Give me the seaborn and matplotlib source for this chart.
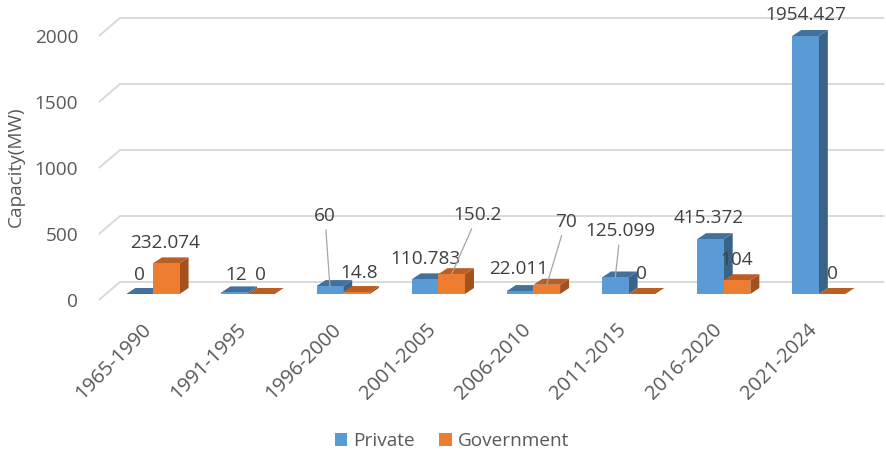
import matplotlib
matplotlib.use("Agg")
import matplotlib.pyplot as plt
from matplotlib.patches import Polygon, Patch
from matplotlib.transforms import ScaledTranslation
import seaborn as sns
import pandas as pd

# ---------------- data ----------------
periods = ["1965-1990", "1991-1995", "1996-2000", "2001-2005",
           "2006-2010", "2011-2015", "2016-2020", "2021-2024"]
private = [0, 12, 60, 110.783, 22.011, 125.099, 415.372, 1954.427]
government = [232.074, 0, 14.8, 150.2, 70, 0, 104, 0]
series_names = ["Private", "Government"]
y_ticks = [0, 500, 1000, 1500, 2000]

# ---------------- styling / label placement (pixels) ----------------
front_colors = ["#5B9BD5", "#ED7D31"]
top_colors = ["#41719C", "#BA5E22"]
side_colors = ["#3A6388", "#A3521D"]
private_label_offsets = [(0, 19), (1, 17), (-5, 70), (0, 20), (-1, 22), (5, 46), (-2, 21), (0, 21)]
government_label_offsets = [(-1, 20), (-1, 19), (3, 19), (26, 59), (19, 63), (0, 20), (0, 20), (0, 20)]
private_leaders = [2, 5]
government_leaders = [3, 4]

sns.set_theme(style="white")
plt.rcParams["font.family"] = ["Open Sans", "DejaVu Sans"]

df = pd.DataFrame({
    "Period": periods * 2,
    "Capacity": private + government,
    "Sector": [series_names[0]] * len(periods) + [series_names[1]] * len(periods),
})

W, H, DPI = 886, 453, 100
fig = plt.figure(figsize=(W / DPI, H / DPI), dpi=DPI)
ax_l, ax_b, ax_w, ax_h = 105.4, 294, 761, 264  # px (ax_b measured from top)
ax = fig.add_axes([ax_l / W, (H - ax_b) / H, ax_w / W, ax_h / H])

sns.barplot(data=df, x="Period", y="Capacity", hue="Sector",
            palette=front_colors, width=0.56, ax=ax, legend=False,
            saturation=1, linewidth=0)
ax.set_xlim(-0.5, len(periods) - 0.5)
ax.set_ylim(0, 2000)
ax.set_yticks(y_ticks)
for s in ax.spines.values():
    s.set_visible(False)
ax.grid(False)
ax.set_xlabel("")
ax.set_ylabel("")

xu = ax_w / len(periods)   # px per category unit
yu = ax_h / 2000.0         # px per value unit

# back wall gridlines with floor diagonal
for v in y_ticks:
    ax.plot([-0.5 - 6.5 / xu, -0.5 + 14.6 / xu, len(periods) - 0.5 + 18 / xu],
            [v - 6 / yu, v + 12 / yu, v + 12 / yu],
            color="#D9D9D9", lw=1.4, clip_on=False, zorder=1, solid_capstyle="butt")

# 3D faces
ddx, ddy = 9 / xu, 6 / yu
for h, cont in enumerate(ax.containers):
    for i, bar in enumerate(cont):
        k = 2 * i + h
        x0 = bar.get_x()
        x1 = x0 + bar.get_width()
        top = bar.get_height()
        z = 3 + 0.1 * k
        bar.set_zorder(z)
        side = Polygon([(x1, 0), (x1 + ddx, ddy), (x1 + ddx, top + ddy), (x1, top)],
                       closed=True, facecolor=side_colors[h], edgecolor="none",
                       clip_on=False, zorder=z - 0.05)
        topf = Polygon([(x0, top), (x1, top), (x1 + ddx, top + ddy), (x0 + ddx, top + ddy)],
                       closed=True, facecolor=top_colors[h], edgecolor="none",
                       clip_on=False, zorder=z - 0.04)
        ax.add_patch(side)
        ax.add_patch(topf)


def fmt(v):
    s = ("%.3f" % v).rstrip("0").rstrip(".")
    return s


label_sets = [(private, private_label_offsets, private_leaders),
              (government, government_label_offsets, government_leaders)]
for h, cont in enumerate(ax.containers):
    vals, offs, leaders = label_sets[h]
    for i, bar in enumerate(cont):
        xc = bar.get_x() + bar.get_width() / 2
        top = bar.get_height()
        ap = None
        if i in leaders:
            ap = dict(arrowstyle="-", color="#A6A6A6", lw=0.9, shrinkA=1, shrinkB=0)
        ax.annotate(fmt(vals[i]), xy=(xc, top), xytext=offs[i],
                    textcoords="offset pixels", ha="center", va="center",
                    fontsize=13.7, color="#404040", zorder=20,
                    arrowprops=ap, annotation_clip=False)

# ticks
ax.tick_params(axis="y", length=0, pad=19.5, labelsize=13.7, labelcolor="#595959")
ax.tick_params(axis="x", length=0, pad=23.5, labelsize=14.5, labelcolor="#595959")
ax.set_xticks(range(len(periods)))
ax.set_xticklabels(periods, rotation=45, ha="right", va="center", rotation_mode="anchor")
for t in ax.get_yticklabels():
    t.set_transform(t.get_transform() + ScaledTranslation(0, -6 / DPI, fig.dpi_scale_trans))
for t in ax.get_xticklabels():
    t.set_transform(t.get_transform() + ScaledTranslation(-5 / DPI, 0, fig.dpi_scale_trans))

fig.text(16 / W, 1 - 167 / H, "Capacity(MW)", rotation=90, ha="center", va="center",
         fontsize=13.7, color="#595959")

handles = [Patch(facecolor=front_colors[j], edgecolor="none") for j in range(2)]
fig.legend(handles, series_names, loc="center", bbox_to_anchor=(452 / W, 1 - 441 / H),
           ncol=2, frameon=False, fontsize=13.7, labelcolor="#595959",
           handlelength=0.65, handleheight=0.65, handletextpad=0.3, columnspacing=1.3)

fig.savefig("out.png", dpi=DPI)
